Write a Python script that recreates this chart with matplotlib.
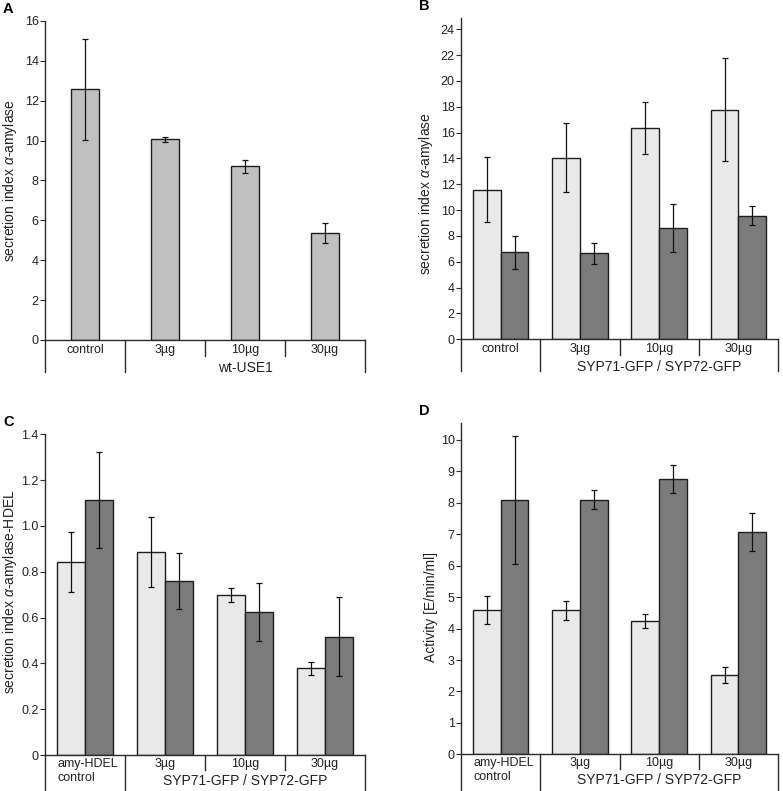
import matplotlib.pyplot as plt
import numpy as np

plt.rcParams['font.family'] = ['Liberation Sans', 'DejaVu Sans']
plt.rcParams['mathtext.fontset'] = 'custom'
plt.rcParams['mathtext.rm'] = 'Liberation Sans'
plt.rcParams['mathtext.it'] = 'Liberation Sans:italic'

FIG_W, FIG_H = 783, 791

# --- data ---
doses = ['control', '3µg', '10µg', '30µg']
doses_hdel = ['amy-HDEL\ncontrol', '3µg', '10µg', '30µg']

a_vals = [12.57, 10.07, 8.71, 5.35]
a_err = [2.53, 0.13, 0.34, 0.50]

b_syp71 = [11.56, 14.07, 16.36, 17.78]
b_syp71_err = [2.52, 2.70, 2.04, 3.98]
b_syp72 = [6.73, 6.66, 8.62, 9.57]
b_syp72_err = [1.29, 0.81, 1.88, 0.76]

c_syp71 = [0.844, 0.888, 0.697, 0.378]
c_syp71_err = [0.131, 0.153, 0.030, 0.030]
c_syp72 = [1.112, 0.761, 0.624, 0.516]
c_syp72_err = [0.210, 0.122, 0.125, 0.172]

d_syp71 = [4.58, 4.58, 4.24, 2.52]
d_syp71_err = [0.45, 0.31, 0.21, 0.245]
d_syp72 = [8.08, 8.10, 8.75, 7.07]
d_syp72_err = [2.04, 0.31, 0.44, 0.60]

LINE = '#2b2b2b'
EDGE = '#1e1e1e'
MID = '#c0c0c0'
LIGHT = '#e9e9e9'
DARK = '#7b7b7b'


def px(ax, n):
    # pixels -> axes fraction (vertical)
    return n / (ax.get_position().height * FIG_H)


def draw_panel(rect, letter, ylim, yticks, yticklabels, ylabel, ylabel_xy,
               series, cats, group, deep, short, cat_off, group_off):
    ax = fig.add_axes(rect)
    x = np.arange(len(cats))
    w = 0.35
    n = len(series)
    for k, (vals, errs, col) in enumerate(series):
        shift = (k - (n - 1) / 2) * w
        ax.bar(x + shift, vals, width=w, color=col, edgecolor=EDGE,
               linewidth=1.0, zorder=2)
        ax.errorbar(x + shift, vals, yerr=errs, fmt='none', ecolor='#111111',
                    elinewidth=0.9, capsize=2, capthick=0.9, zorder=3)

    ax.set_xlim(-0.5, len(cats) - 0.5)
    ax.set_ylim(*ylim)
    ax.set_yticks(yticks)
    ax.set_yticklabels(yticklabels)
    ax.set_xticks([])
    for s in ['top', 'right']:
        ax.spines[s].set_visible(False)
    for s in ['left', 'bottom']:
        ax.spines[s].set_color(LINE)
        ax.spines[s].set_linewidth(1.0)
    ax.tick_params(axis='y', direction='out', length=3.5, width=0.8,
                   color=LINE, pad=1, labelsize=9, labelcolor='#222222')

    tr = ax.get_xaxis_transform()
    # table-like lines under the axis
    for xx, d in [(-0.5, deep), (0.5, deep), (1.5, short), (2.5, short),
                  (len(cats) - 0.5, deep)]:
        ax.plot([xx, xx], [0, -px(ax, d)], transform=tr, clip_on=False,
                color=LINE, lw=1.0)

    for i, lab in enumerate(cats):
        if '\n' in lab:
            ax.text(i - 0.34, -px(ax, cat_off), lab, transform=tr, ha='left',
                    va='top', fontsize=9, color='#222222', linespacing=1.2)
        else:
            ax.text(i, -px(ax, cat_off), lab, transform=tr, ha='center',
                    va='top', fontsize=9, color='#222222')
    ax.text(2, -px(ax, group_off), group, transform=tr, ha='center',
            va='center', fontsize=10, color='#222222')

    ax.set_ylabel(ylabel, fontsize=10, color='#222222')
    ax.yaxis.set_label_coords(*ylabel_xy)

    fig.text(rect[0] - 42 / FIG_W, rect[1] + rect[3] + 12 / FIG_H, letter,
             fontsize=10.5, fontweight='bold', va='center', ha='left')
    return ax


fig = plt.figure(figsize=(FIG_W / 100, FIG_H / 100), dpi=100)

draw_panel([0.0575, 0.5702, 0.4087, 0.4033], 'A', (0, 16),
           range(0, 17, 2), [str(v) for v in range(0, 17, 2)],
           r'secretion index $\alpha$-amylase', (-0.080, 0.50),
           [(a_vals, a_err, MID)], doses, 'wt-USE1', 32, 16, 4, 28)

draw_panel([0.5888, 0.5711, 0.4049, 0.4061], 'B', (0, 24.87),
           range(0, 25, 2), [str(v) for v in range(0, 25, 2)],
           r'secretion index $\alpha$-amylase', (-0.082, 0.452),
           [(b_syp71, b_syp71_err, LIGHT), (b_syp72, b_syp72_err, DARK)],
           doses, 'SYP71-GFP / SYP72-GFP', 32, 16, 4, 28)

c_ticks = [0, 0.2, 0.4, 0.6, 0.8, 1.0, 1.2, 1.4]
draw_panel([0.0575, 0.0455, 0.4087, 0.4055], 'C', (0, 1.4),
           c_ticks, ['0'] + ['%.1f' % v for v in c_ticks[1:]],
           r'secretion index $\alpha$-amylase-HDEL', (-0.080, 0.509),
           [(c_syp71, c_syp71_err, LIGHT), (c_syp72, c_syp72_err, DARK)],
           doses_hdel, 'SYP71-GFP / SYP72-GFP', 40, 15, 3, 26)

draw_panel([0.5888, 0.0464, 0.4049, 0.4188], 'D', (0, 10.54),
           range(0, 11), [str(v) for v in range(0, 11)],
           'Activity [E/min/ml]', (-0.073, 0.446),
           [(d_syp71, d_syp71_err, LIGHT), (d_syp72, d_syp72_err, DARK)],
           doses_hdel, 'SYP71-GFP / SYP72-GFP', 40, 15, 3, 26)

fig.savefig('out.png', dpi=100)
